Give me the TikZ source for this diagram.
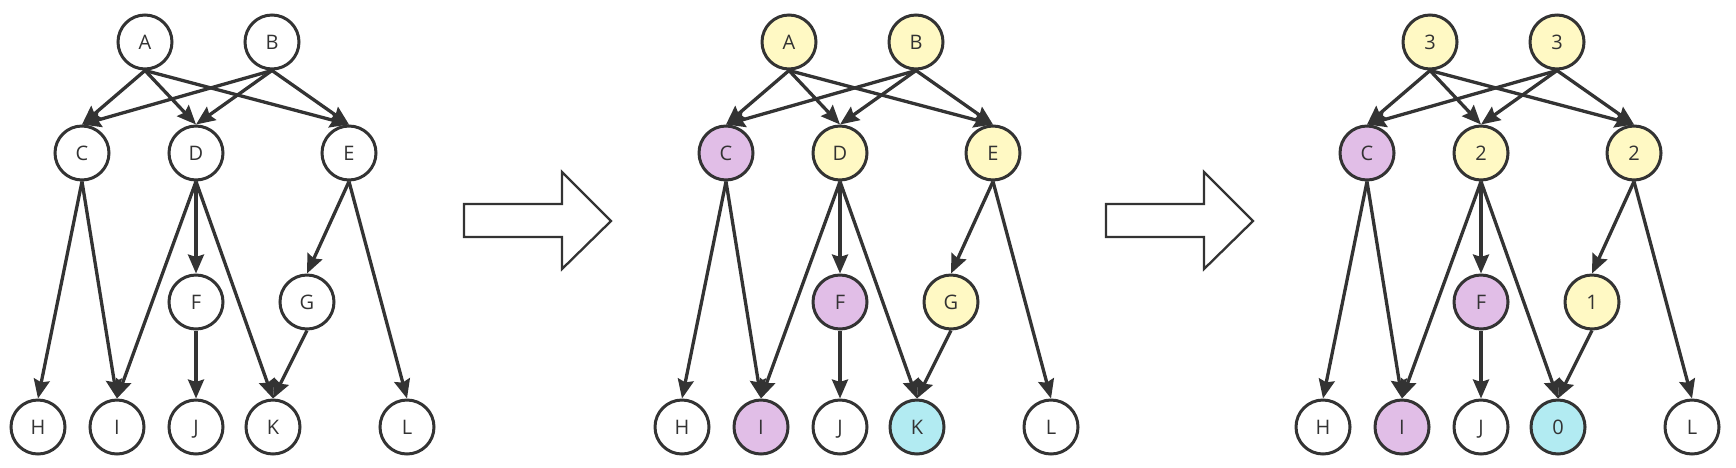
\documentclass[tikz,border=0pt]{standalone}
\usepackage{fontspec}
\setmainfont{Open Sans}
\usetikzlibrary{arrows.meta}
\definecolor{inkgray}{HTML}{333333}
\definecolor{paleyellow}{HTML}{FFF9C4}
\definecolor{palepurple}{HTML}{E1BEE7}
\definecolor{palecyan}{HTML}{B2EBF2}

\begin{document}
\begin{tikzpicture}[x=1pt,y=-1pt,
  vertex/.style={circle,draw=inkgray,line width=3pt,minimum size=54pt,inner sep=0pt,
    fill=white,text=inkgray,font=\fontsize{20}{24}\selectfont,text height=14.5pt,text depth=0pt},
  yel/.style={vertex,fill=paleyellow},
  pur/.style={vertex,fill=palepurple},
  cya/.style={vertex,fill=palecyan},
  link/.style={draw=inkgray,line width=3.3pt,-{Stealth[length=19pt,width=16pt,inset=2.5pt]}},
  bigarrow/.style={draw=inkgray,line width=2.3pt,fill=white,line join=miter}]
  \useasboundingbox (0,0) rectangle (1736,467);
  % first graph
  \node[vertex] (a1) at (145,42) {A};
  \node[vertex] (b1) at (272,42) {B};
  \node[vertex] (c1) at (82,153) {C};
  \node[vertex] (d1) at (196,153) {D};
  \node[vertex] (e1) at (349,153) {E};
  \node[vertex] (f1) at (196,302) {F};
  \node[vertex] (g1) at (307,302) {G};
  \node[vertex] (h1) at (38,427) {H};
  \node[vertex] (i1) at (117,427) {I};
  \node[vertex] (j1) at (196,427) {J};
  \node[vertex] (k1) at (273,427) {K};
  \node[vertex] (l1) at (407,427) {L};
  % second graph
  \begin{scope}[xshift=644pt]
   \node[yel] (a2) at (145,42) {A};
   \node[yel] (b2) at (272,42) {B};
   \node[pur] (c2) at (82,153) {C};
   \node[yel] (d2) at (196,153) {D};
   \node[yel] (e2) at (349,153) {E};
   \node[pur] (f2) at (196,302) {F};
   \node[yel] (g2) at (307,302) {G};
   \node[vertex] (h2) at (38,427) {H};
   \node[pur] (i2) at (117,427) {I};
   \node[vertex] (j2) at (196,427) {J};
   \node[cya] (k2) at (273,427) {K};
   \node[vertex] (l2) at (407,427) {L};
  \end{scope}
  % third graph
  \begin{scope}[xshift=1285pt]
   \node[yel] (a3) at (145,42) {3};
   \node[yel] (b3) at (272,42) {3};
   \node[pur] (c3) at (82,153) {C};
   \node[yel] (d3) at (196,153) {2};
   \node[yel] (e3) at (349,153) {2};
   \node[pur] (f3) at (196,302) {F};
   \node[yel] (g3) at (307,302) {1};
   \node[vertex] (h3) at (38,427) {H};
   \node[pur] (i3) at (117,427) {I};
   \node[vertex] (j3) at (196,427) {J};
   \node[cya] (k3) at (273,427) {0};
   \node[vertex] (l3) at (407,427) {L};
  \end{scope}
  \foreach \p in {1,2,3}
   \foreach \u/\v in {a/c,a/d,a/e,b/c,b/d,b/e,c/h,c/i,d/i,d/f,d/k,e/g,e/l,f/j,g/k}
    \draw[link] (\u\p.south) -- (\v\p.north);
  % step arrows
  \draw[bigarrow] (464,204) -- (562,204) -- (562,172) -- (611,221) -- (562,269) -- (562,237) -- (464,237) -- cycle;
  \draw[bigarrow] (1106,204) -- (1204,204) -- (1204,172) -- (1253,221) -- (1204,269) -- (1204,237) -- (1106,237) -- cycle;
\end{tikzpicture}
\end{document}
